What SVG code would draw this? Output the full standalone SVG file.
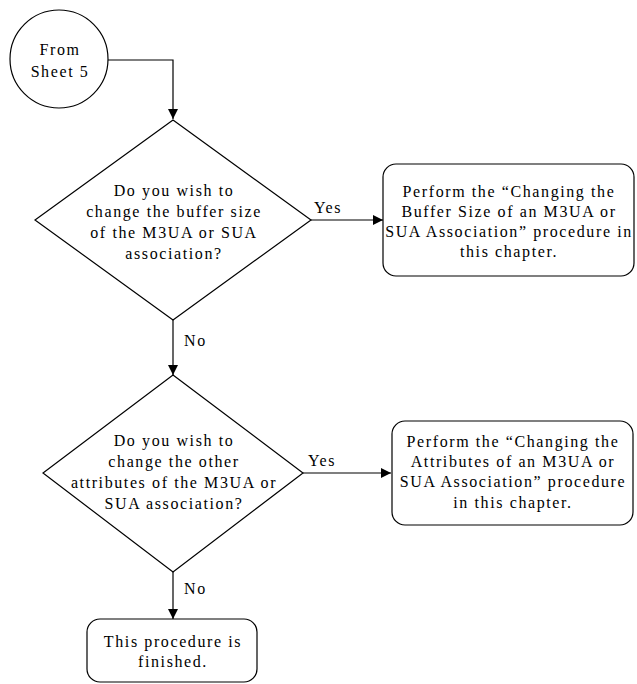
<svg xmlns="http://www.w3.org/2000/svg" width="637" height="684" viewBox="0 0 637 684">
<defs>
<marker id="arr" viewBox="0 0 10 10" refX="10" refY="5" markerWidth="10" markerHeight="10" markerUnits="userSpaceOnUse" orient="auto">
<path d="M0,0 L10,5 L0,10 Z" fill="#000"/>
</marker>
<style>
.s{fill:#fff;stroke:#000;stroke-width:1.2}
.c{fill:none;stroke:#000;stroke-width:1.2;marker-end:url(#arr)}
text{font-family:"Liberation Serif","Times New Roman",serif;font-size:16px;letter-spacing:1.6px;fill:#000}
.m{text-anchor:middle}
</style>
</defs>
<rect width="637" height="684" fill="#fff"/>
<g id="connectors">
<path class="c" d="M108,60 H173 V119"/>
<path class="c" d="M311,220 H383"/>
<path class="c" d="M173,320 V375"/>
<path class="c" d="M303,473 H391"/>
<path class="c" d="M173,572 V619"/>
<text x="314" y="213">Yes</text>
<text x="184" y="346">No</text>
<text x="308" y="466">Yes</text>
<text x="184" y="594">No</text>
</g>
<g id="start">
<circle class="s" cx="59" cy="59" r="49"/>
<text class="m" x="60" y="55">From</text>
<text class="m" x="60" y="77">Sheet 5</text>
</g>
<g id="decision1">
<polygon class="s" points="173,120 311,220 173,320 35,220"/>
<text class="m" x="174" y="196">Do you wish to</text>
<text class="m" x="174" y="217">change the buffer size</text>
<text class="m" x="174" y="238">of the M3UA or SUA</text>
<text class="m" x="174" y="259">association?</text>
</g>
<g id="box1">
<rect class="s" x="383" y="164" width="251" height="112" rx="13"/>
<text class="m" x="509" y="197">Perform the “Changing the</text>
<text class="m" x="509" y="217">Buffer Size of an M3UA or</text>
<text class="m" x="509" y="237">SUA Association” procedure in</text>
<text class="m" x="509" y="257">this chapter.</text>
</g>
<g id="decision2">
<polygon class="s" points="173,375 303,473 173,572 43,473"/>
<text class="m" x="174" y="446">Do you wish to</text>
<text class="m" x="174" y="467">change the other</text>
<text class="m" x="174" y="488">attributes of the M3UA or</text>
<text class="m" x="174" y="509">SUA association?</text>
</g>
<g id="box2">
<rect class="s" x="392" y="421" width="241" height="104" rx="13"/>
<text class="m" x="513" y="447">Perform the “Changing the</text>
<text class="m" x="513" y="467">Attributes of an M3UA or</text>
<text class="m" x="513" y="487">SUA Association” procedure</text>
<text class="m" x="513" y="508">in this chapter.</text>
</g>
<g id="end">
<rect class="s" x="87" y="619" width="170" height="63" rx="13"/>
<text class="m" x="173" y="647">This procedure is</text>
<text class="m" x="173" y="667">finished.</text>
</g>
</svg>
